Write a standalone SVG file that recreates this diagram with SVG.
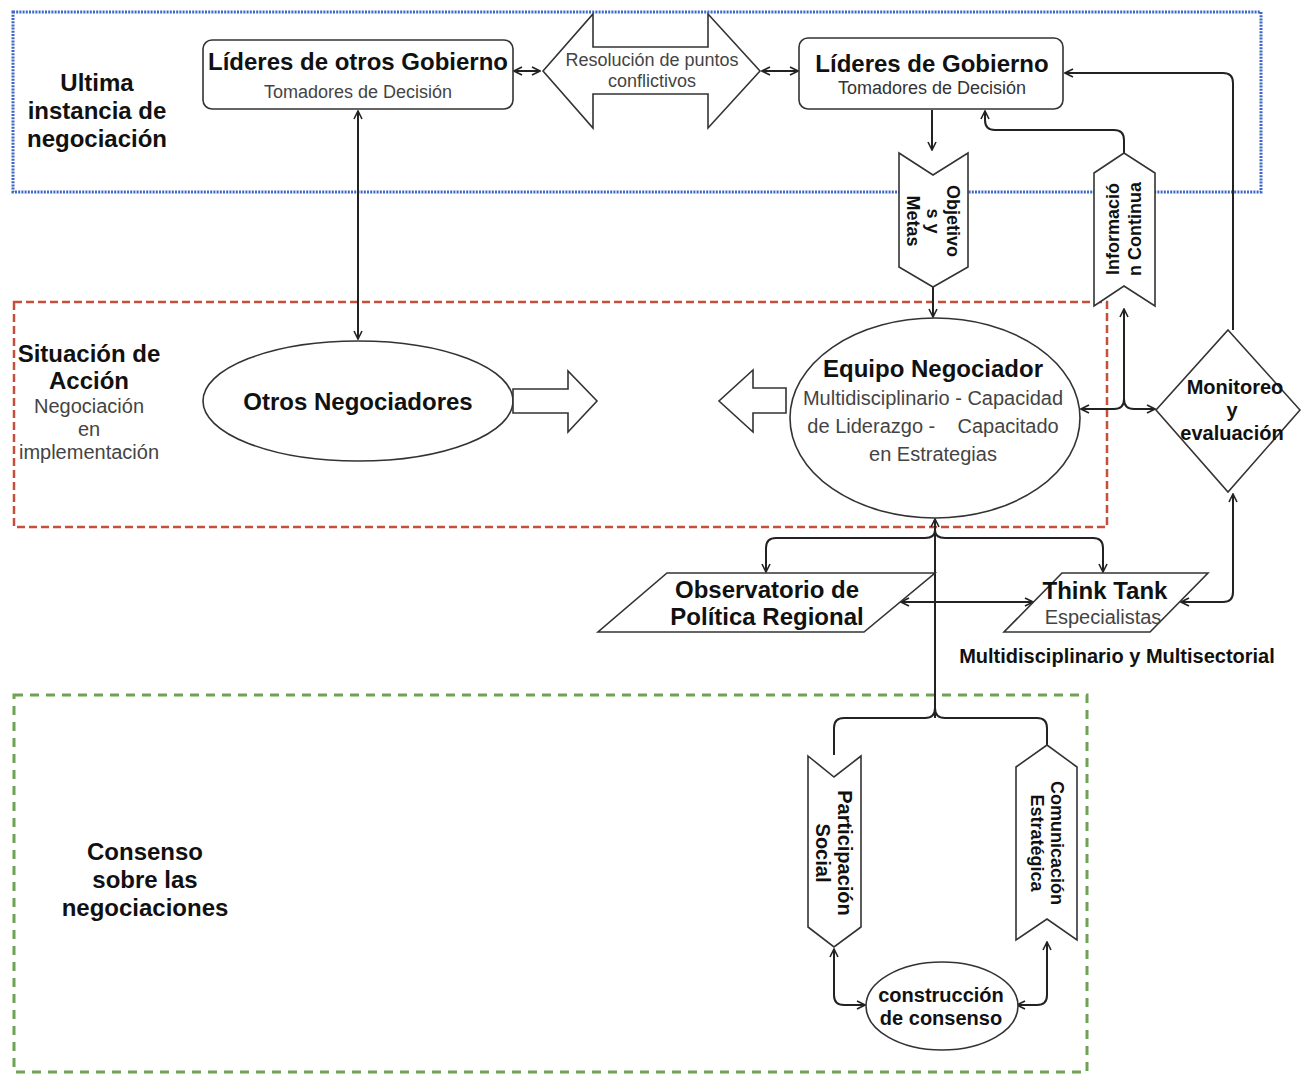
<svg xmlns="http://www.w3.org/2000/svg" width="1301" height="1076" viewBox="0 0 1301 1076">
<defs>
<marker id="ah" viewBox="0 0 10 10" refX="9" refY="5" markerWidth="10" markerHeight="10" markerUnits="userSpaceOnUse" orient="auto-start-reverse">
<path d="M1,1 L9,5 L1,9" fill="none" stroke="#222" stroke-width="1.6"/>
</marker>
</defs>
<style>
text{font-family:"Liberation Sans",Arial,sans-serif;text-anchor:middle}
.t{font-weight:bold;font-size:24px;fill:#111}
.s{font-size:20px;fill:#444}
.s18{font-size:18px;fill:#444}
.b20{font-weight:bold;font-size:20px;fill:#111}
.b18{font-weight:bold;font-size:18px;fill:#111}
.shape{fill:#fff;stroke:#333;stroke-width:1.6}
.c{fill:none;stroke:#222;stroke-width:2}
.m2{marker-start:url(#ah);marker-end:url(#ah)}
.me{marker-end:url(#ah)}
</style>
<rect width="1301" height="1076" fill="#fff"/>

<g id="regions">
<rect id="region-ultima" x="13" y="12" width="1248" height="180" fill="none" stroke="#3d67c7" stroke-width="3" stroke-dasharray="2 1.2"/>
<rect id="region-situacion" x="14" y="302" width="1093" height="225" fill="none" stroke="#c4503c" stroke-width="2.5" stroke-dasharray="8 4"/>
<rect id="region-consenso" x="14" y="695" width="1073" height="377" fill="none" stroke="#6fa353" stroke-width="3" stroke-dasharray="9 7"/>
<text class="t" x="97" y="91">Ultima</text>
<text class="t" x="97" y="119">instancia de</text>
<text class="t" x="97" y="147">negociación</text>
<text class="t" x="89" y="362">Situación de</text>
<text class="t" x="89" y="389">Acción</text>
<text class="s" x="89" y="413">Negociación</text>
<text class="s" x="89" y="436">en</text>
<text class="s" x="89" y="459">implementación</text>
<text class="t" x="145" y="860">Consenso</text>
<text class="t" x="145" y="888">sobre las</text>
<text class="t" x="145" y="916">negociaciones</text>
</g>

<g id="connectors">
<path class="c m2" d="M514,71 H540"/>
<path class="c m2" d="M762,71 H798"/>
<path class="c m2" d="M358,111 V339"/>
<path class="c me" d="M932,110 V150"/>
<path class="c me" d="M933,287 V317"/>
<path class="c me" d="M1124,153 V140 Q1124,130 1114,130 H995 Q985,130 985,120 V111"/>
<path class="c me" d="M1233,330 V83 Q1233,73 1223,73 H1065"/>
<path class="c m2" d="M1081,409 H1114 Q1124,409 1124,399 V309"/>
<path class="c me" d="M1124,399 Q1124,409 1134,409 H1155"/>
<path class="c m2" d="M1233,494 V592 Q1233,602 1223,602 H1181"/>
<path class="c m2" d="M901,602 H1033"/>
<path class="c me" d="M935,718 V519"/>
<path class="c me" d="M935,530 Q935,538 925,538 H776 Q766,538 766,548 V572"/>
<path class="c me" d="M935,530 Q935,538 945,538 H1093 Q1103,538 1103,548 V572"/>
<path class="c" d="M935,708 Q935,718 925,718 H844 Q834,718 834,728 V755"/>
<path class="c" d="M935,708 Q935,718 945,718 H1037 Q1047,718 1047,728 V745"/>
<path class="c m2" d="M834,949 V995 Q834,1005 844,1005 H865"/>
<path class="c m2" d="M1047,942 V995 Q1047,1005 1037,1005 H1017"/>
</g>

<g id="lideres-otros">
<rect class="shape" x="203" y="40" width="310" height="69" rx="9"/>
<text class="t" x="358" y="70">Líderes de otros Gobierno</text>
<text class="s18" x="358" y="98">Tomadores de Decisión</text>
</g>

<g id="resolucion">
<polygon class="shape" points="543,71 593,14 593,47 708,47 708,14 760,71 708,128 708,94 593,94 593,128"/>
<text class="s18" x="652" y="66">Resolución de puntos</text>
<text class="s18" x="652" y="87">conflictivos</text>
</g>

<g id="lideres-gobierno">
<rect class="shape" x="799" y="38" width="264" height="71" rx="9"/>
<text class="t" x="932" y="72">Líderes de Gobierno</text>
<text class="s18" x="932" y="94" style="fill:#333">Tomadores de Decisión</text>
</g>

<g id="objetivos">
<polygon class="shape" points="899,153 933,175 968,153 968,267 933,287 899,267"/>
<g transform="translate(933,221) rotate(90)">
<text class="b18" x="0" y="-14">Objetivo</text>
<text class="b18" x="0" y="6">s y</text>
<text class="b18" x="0" y="26">Metas</text>
</g>
</g>

<g id="informacion">
<polygon class="shape" points="1094,173 1124,153 1155,173 1155,306 1124,286 1094,306"/>
<g transform="translate(1124,229) rotate(-90)">
<text class="b18" x="0" y="-5">Informació</text>
<text class="b18" x="0" y="17">n Continua</text>
</g>
</g>

<g id="otros-negociadores">
<ellipse class="shape" cx="358" cy="401" rx="155" ry="60"/>
<text class="t" x="358" y="410">Otros Negociadores</text>
</g>

<g id="flecha-derecha">
<polygon class="shape" points="513,389 568,389 568,371 597,401 568,432 568,413 513,413"/>
</g>

<g id="flecha-izquierda">
<polygon class="shape" points="786,388 753,388 753,370 719,401 753,432 753,413 786,413"/>
</g>

<g id="equipo-negociador">
<ellipse class="shape" cx="935" cy="418" rx="145" ry="100"/>
<text class="t" x="933" y="377">Equipo Negociador</text>
<text class="s" x="933" y="405">Multidisciplinario - Capacidad</text>
<text class="s" x="933" y="433" style="white-space:pre">de Liderazgo -    Capacitado</text>
<text class="s" x="933" y="461">en Estrategias</text>
</g>

<g id="monitoreo">
<polygon class="shape" points="1228,330 1300,410 1228,492 1156,410"/>
<text class="b20" x="1235" y="394">Monitoreo</text>
<text class="b20" x="1232" y="417">y</text>
<text class="b20" x="1232" y="440">evaluación</text>
</g>

<g id="observatorio">
<polygon class="shape" points="667,573 935,573 864,632 598,632"/>
<text class="t" x="767" y="598">Observatorio de</text>
<text class="t" x="767" y="625">Política Regional</text>
</g>

<g id="think-tank">
<polygon class="shape" points="1062,573 1208,573 1150,632 1004,632"/>
<text class="t" x="1105" y="599">Think Tank</text>
<text class="s" x="1103" y="624">Especialistas</text>
</g>

<g id="multi-label">
<text class="b20" x="1117" y="663">Multidisciplinario y Multisectorial</text>
</g>

<g id="participacion">
<polygon class="shape" points="808,756 834,777 861,756 861,927 834,947 808,927"/>
<g transform="translate(834,853) rotate(90)">
<text class="b20" x="0" y="-4">Participación</text>
<text class="b20" x="0" y="18">Social</text>
</g>
</g>

<g id="comunicacion">
<polygon class="shape" points="1016,767 1047,745 1077,767 1077,940 1047,919 1016,940"/>
<g transform="translate(1047,843) rotate(90)">
<text class="b18" x="0" y="-4">Comunicación</text>
<text class="b18" x="0" y="16">Estratégica</text>
</g>
</g>

<g id="construccion">
<ellipse class="shape" cx="942" cy="1006" rx="76" ry="44"/>
<text class="b20" x="941" y="1002">construcción</text>
<text class="b20" x="941" y="1025">de consenso</text>
</g>
</svg>
